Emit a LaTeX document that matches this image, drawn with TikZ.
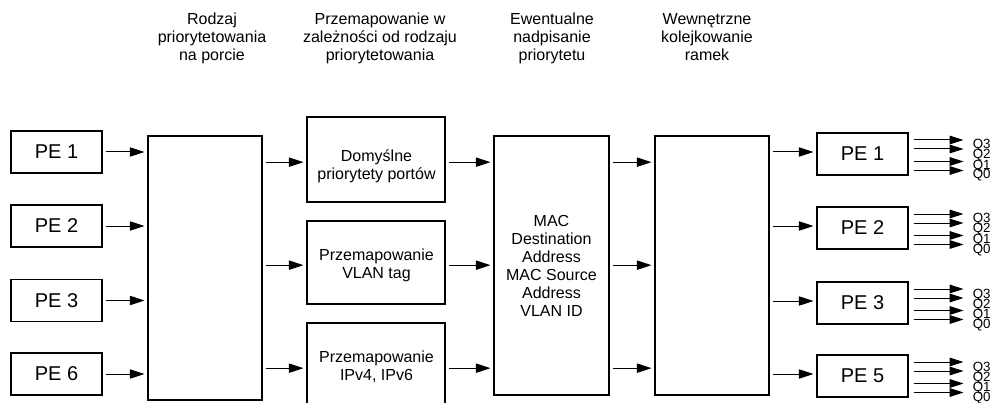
\documentclass[tikz,border=0pt]{standalone}
\usepackage{fontspec}
\setmainfont{Liberation Sans}
\usetikzlibrary{arrows.meta,calc}
\begin{document}
\begin{tikzpicture}[x=0.75pt,y=-0.75pt,
  box/.style={draw, line width=0.8pt, inner sep=0pt},
  pebox/.style={box, minimum width=68.25pt, minimum height=31.5pt, font=\fontsize{15}{18}\selectfont},
  tallbox/.style={box, minimum width=85.5pt},
  midbox/.style={box, minimum width=103.5pt},
  txt/.style={align=center, inner sep=0pt, anchor=north, font=\fontsize{12}{13.5}\selectfont},
  arr/.style={-{Triangle[length=11pt,width=7pt]}, line width=0.75pt, shorten <=2.25pt, shorten >=2.25pt},
  qarr/.style={-{Triangle[length=10.5pt,width=6.5pt]}, line width=0.75pt, shorten <=3.75pt},
  qlab/.style={anchor=base west, inner sep=0pt, font=\fontsize{10}{10}\selectfont}]
\useasboundingbox (0,0) rectangle (990,403);

% headers
\node[txt] (h1) at (212,11.4) {\strut Rodzaj\\priorytetowania\\na porcie};
\node[txt] (h2) at (380,11.4) {\strut Przemapowanie w\\zależności od rodzaju\\priorytetowania};
\node[txt] (h3) at (552,11.4) {\strut Ewentualne\\nadpisanie\\priorytetu};
\node[txt] (h4) at (707,11.4) {\strut Wewnętrzne\\kolejkowanie\\ramek};

% left PE boxes
\node[pebox] (pl1) at (56.5,152) {PE 1};
\node[pebox] (pl2) at (56.5,226) {PE 2};
\node[pebox] (pl3) at (56.5,300.5) {PE 3};
\node[pebox] (pl6) at (56.5,374) {PE 6};

% big boxes
\node[tallbox, minimum height=198pt] (b1) at (205,268) {};
\node[box, minimum width=86.25pt, minimum height=194.25pt] (mac) at (551.5,265.5) {};
\node[tallbox, minimum height=194.25pt] (b3) at (712,265.5) {};

% middle boxes
\node[midbox, minimum height=63.75pt] (m1) at (376,159.5) {};
\node[midbox, minimum height=62.25pt] (m2) at (376,262.5) {};
\node[midbox, minimum height=63.75pt] (m3) at (376,365.5) {};

\node[txt] (t1) at (376.5,149.1) {\strut Domyślne\\priorytety portów};
\node[txt] (t2) at (376.5,247.4) {\strut Przemapowanie\\VLAN tag};
\node[txt] (t3) at (376.5,349.9) {\strut Przemapowanie\\IPv4, IPv6};
\node[txt] (tmac) at (551.5,214.1) {\strut MAC\\Destination\\Address\\MAC Source\\Address\\VLAN ID};

% right PE boxes
\node[pebox] (pr1) at (862.5,154) {PE 1};
\node[pebox] (pr2) at (862.5,228) {PE 2};
\node[pebox] (pr3) at (862.5,303) {PE 3};
\node[pebox] (pr5) at (862.5,376) {PE 5};

% arrows left PE -> b1
\foreach \n in {pl1,pl2,pl3,pl6}
  \draw[arr] (\n.east) -- (\n.east -| b1.west);

% b1 -> middle, middle -> mac, mac -> b3
\foreach \m in {m1,m2,m3} {
  \draw[arr] ([yshift=-2pt]\m.west -| b1.east) -- ([yshift=-2pt]\m.west);
  \draw[arr] ([yshift=-2pt]\m.east) -- ([yshift=-2pt]\m.east -| mac.west);
  \draw[arr] ([yshift=-2pt]\m.east -| mac.east) -- ([yshift=-2pt]\m.east -| b3.west);
}

% b3 -> right PE
\foreach \n in {pr1,pr2,pr3,pr5}
  \draw[arr] ([yshift=1.5pt]\n.west -| b3.east) -- ([yshift=1.5pt]\n.west);

% queue outputs
\foreach \n in {pr1,pr2,pr3,pr5} {
  \foreach \dy/\ly/\q in {-14/-9.5/Q3, -5/0.5/Q2, 7.5/11/Q1, 16.5/20.5/Q0} {
    \coordinate (\n-\q-end) at ($(\n.east)+(55,\dy)$);
    \draw[qarr] ($(\n.east)+(0,\dy)$) -- (\n-\q-end);
    \node[qlab] (\n-\q) at ($(\n.east)+(64,\ly+4.5)$) {\q};
  }
}
\end{tikzpicture}
\end{document}
